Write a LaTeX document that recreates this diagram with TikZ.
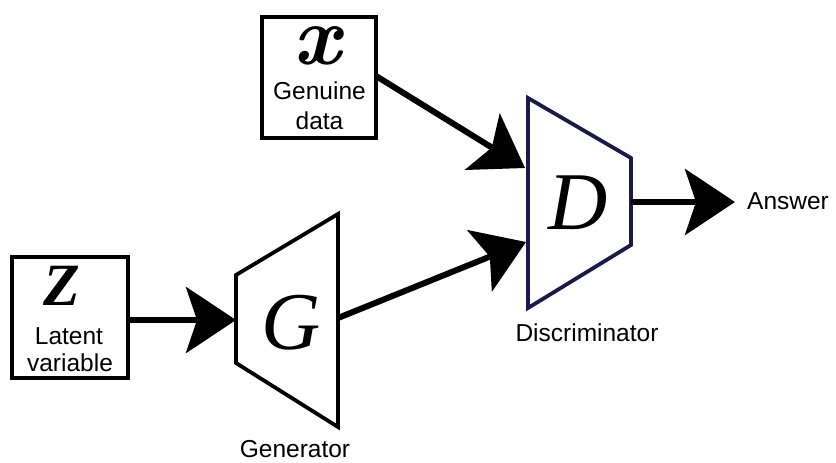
\documentclass[tikz,border=0pt]{standalone}
\usepackage{fontspec}
\setmainfont{Liberation Serif}
\setsansfont{Liberation Sans}
\usetikzlibrary{arrows.meta}
\definecolor{navy}{RGB}{25,25,75}
\begin{document}
\begin{tikzpicture}[x=1pt,y=-1pt,
  box/.style={draw, line width=3.8pt, inner sep=0, outer sep=0},
  lbl/.style={font=\sffamily\fontsize{24.5}{28}\selectfont, inner sep=0, anchor=base},
  big/.style={font=\fontsize{82}{82}\selectfont\itshape, inner sep=0},
  trap/.style={line width=3.8pt, line join=miter},
  arr/.style={line width=6pt, -{Stealth[length=50pt,width=66pt,inset=11pt]}},
]
\useasboundingbox (0,0) rectangle (836,463);
% boxes
\node[box, minimum width=114pt, minimum height=121pt] (xbox) at (319,77.5) {};
\node[box, minimum width=116pt, minimum height=121pt] (zbox) at (70,317.5) {};
\node[inner sep=0, font=\fontfamily{lmr}\fontseries{bx}\fontshape{it}\fontsize{84}{84}\selectfont] (xsym) at (317,46) {x};
\node[inner sep=0, font=\fontsize{60}{60}\selectfont\bfseries\itshape] (zsym) at (62,286) {Z};
\node[lbl] (gen1) at (319.5,99) {Genuine};
\node[lbl] (gen2) at (319.5,129) {data};
\node[lbl] (lat1) at (69,344) {Latent};
\node[lbl] (lat2) at (70,371) {variable};
% generator
\draw[trap] (236,275) -- (338,214) -- (338,427) -- (236,363) -- cycle;
\coordinate (gin) at (236,320);
\coordinate (gout) at (338,318);
\node[big] (gsym) at (291,323) {G};
\node[lbl] (glab) at (295,457) {Generator};
% discriminator
\draw[trap, navy] (528,98) -- (631,158) -- (631,245) -- (528,308) -- cycle;
\coordinate (din1) at (525,168);
\coordinate (din2) at (526,242);
\coordinate (dout) at (631,202);
\node[big] (dsym) at (578,203) {D};
\node[lbl] (dlab) at (587,341) {Discriminator};
% answer
\node[lbl, anchor=base west] (ans) at (747,209) {Answer};
\coordinate (anstip) at (735,202);
% connectors
\draw[arr] (zbox.east |- gin) -- (gin);
\draw[arr] (xbox.east |- 0,76) -- (din1);
\draw[arr] (gout) -- (din2);
\draw[arr] (dout) -- (anstip);
\end{tikzpicture}
\end{document}
